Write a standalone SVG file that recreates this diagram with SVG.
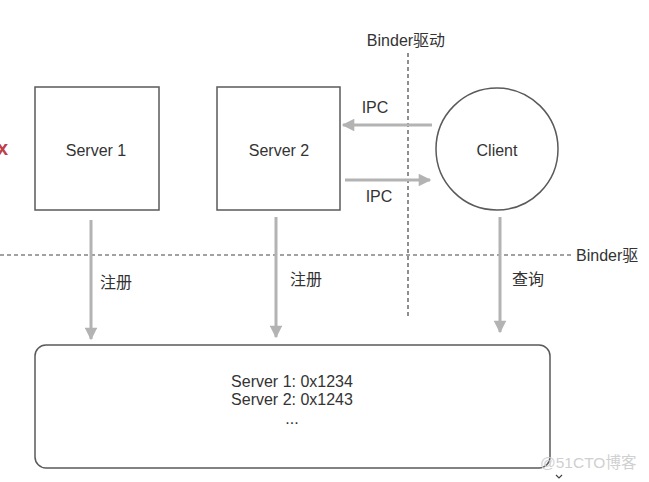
<svg xmlns="http://www.w3.org/2000/svg" width="649" height="482" viewBox="0 0 649 482">
<style>
text{font-family:"Liberation Sans",Arial,sans-serif;fill:#333}
.box{fill:#fff;stroke:#5a5a5a;stroke-width:1.5}
.lbl{font-size:16px;text-anchor:middle}
.arr{stroke:#b3b3b3;stroke-width:3;fill:none}
.dash{stroke:#444;stroke-width:1.2;stroke-dasharray:4 3;fill:none}
.cn{font-size:16px;font-family:"Liberation Sans","Noto Sans CJK SC",sans-serif}
</style>
<defs>
<marker id="ah" viewBox="0 0 10 10" refX="9" refY="5" markerWidth="5.5" markerHeight="4.2" orient="auto" markerUnits="strokeWidth">
<path d="M0,0 L10,5 L0,10 Z" fill="#b3b3b3"/>
</marker>
</defs>
<rect width="649" height="482" fill="#fff"/>
<text x="-3" y="155" style="font-size:20px;font-weight:bold;fill:#c0404a">x</text>
<g id="dashes">
<line class="dash" x1="408" y1="53" x2="408" y2="318"/>
<line class="dash" x1="0" y1="255" x2="573" y2="255"/>
</g>
<text class="cn" x="406" y="46" text-anchor="middle">Binder驱动</text>
<text class="cn" x="576" y="261">Binder驱</text>
<g id="server1">
<rect class="box" x="35" y="87" width="124" height="123"/>
<text class="lbl" x="96" y="156">Server 1</text>
</g>
<g id="server2">
<rect class="box" x="217" y="87" width="123" height="123"/>
<text class="lbl" x="279" y="156">Server 2</text>
</g>
<g id="client">
<circle class="box" cx="497" cy="149" r="61"/>
<text class="lbl" x="497" y="156">Client</text>
</g>
<g id="registry">
<rect class="box" x="35" y="345" width="515" height="123" rx="11"/>
<text class="lbl" x="292" y="387">Server 1: 0x1234</text>
<text class="lbl" x="292" y="405">Server 2: 0x1243</text>
<text class="lbl" x="292" y="424">...</text>
</g>
<g id="connectors">
<line class="arr" x1="432" y1="125" x2="343" y2="125" marker-end="url(#ah)"/>
<line class="arr" x1="345" y1="180" x2="430" y2="180" marker-end="url(#ah)"/>
<line class="arr" x1="91" y1="220" x2="91" y2="339" marker-end="url(#ah)"/>
<line class="arr" x1="276" y1="217" x2="276" y2="337" marker-end="url(#ah)"/>
<line class="arr" x1="500" y1="217" x2="500" y2="332" marker-end="url(#ah)"/>
</g>
<text class="lbl" x="375" y="113">IPC</text>
<text class="lbl" x="379" y="202">IPC</text>
<text class="cn" x="100" y="288">注册</text>
<text class="cn" x="290" y="285">注册</text>
<text class="cn" x="512" y="285">查询</text>
<text x="540" y="468" style="font-size:15.5px;fill:#d0d0d0;font-family:'Liberation Sans','Noto Sans CJK SC',sans-serif">@51CTO博客</text>
<path d="M556,475 L559,478 L562,475" fill="none" stroke="#444" stroke-width="1.2"/>
</svg>
